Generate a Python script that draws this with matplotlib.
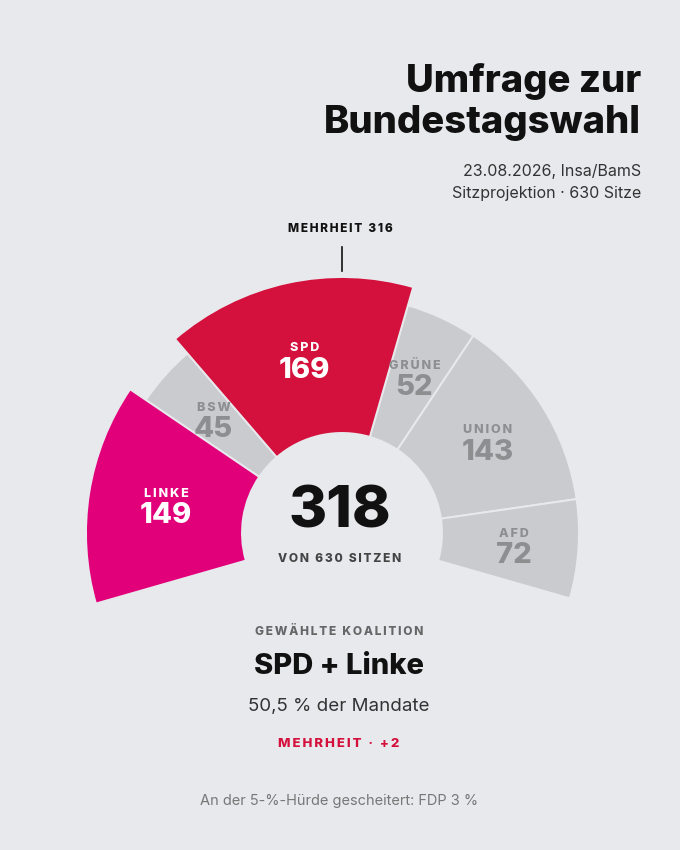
import matplotlib
matplotlib.use("Agg")
import matplotlib.pyplot as plt
from matplotlib.patches import Wedge
import numpy as np

# seat projection (Insa/BamS, 23.08.2026)
parties = ["LINKE", "BSW", "SPD", "GRÜNE", "UNION", "AFD"]
seats = [149, 45, 169, 52, 143, 72]
coalition = ["LINKE", "SPD"]
total_seats = 630
majority = 316

BG = "#e8e9ed"
GREY = "#c9cbcf"
GREY_TXT = "#8d8e90"
party_colors = {"LINKE": "#e2007a", "SPD": "#d4103c"}

plt.rcParams["font.family"] = ["Inter", "DejaVu Sans"]


def spaced(s, sep="\u2009"):
    # fake letter spacing with thin spaces
    return sep.join(s)


W, H = 680, 850
fig = plt.figure(figsize=(W / 100, H / 100), dpi=100, facecolor=BG)
ax = fig.add_axes([0, 0, 1, 1])
ax.set_xlim(0, W)
ax.set_ylim(0, H)
ax.set_aspect("equal")
ax.axis("off")


def py(y):
    # pixel-from-top to data y
    return H - y


cx, cy = 342, py(533)
r_in, r_out, r_out_c = 100, 237, 256
a_start, a_span = 196.0, 212.0

cum = np.concatenate([[0], np.cumsum(seats)])
for i, p in enumerate(parties):
    t2 = a_start - cum[i] / total_seats * a_span
    t1 = a_start - cum[i + 1] / total_seats * a_span
    is_c = p in coalition
    ro = r_out_c if is_c else r_out
    col = party_colors.get(p, GREY)
    ax.add_patch(Wedge((cx, cy), ro, t1, t2, width=ro - r_in, facecolor=col,
                       edgecolor=BG, linewidth=1.4, zorder=3 if is_c else 2))

for i, p in enumerate(parties):
    mid = a_start - (cum[i] + seats[i] / 2) / total_seats * a_span
    is_c = p in coalition
    rl = 178 if is_c else 172
    lx = cx + rl * np.cos(np.radians(mid))
    ly = cy + rl * np.sin(np.radians(mid))
    tc = "white" if is_c else GREY_TXT
    ax.text(lx, ly + 11, spaced(p), ha="center", va="center", fontsize=9,
            fontweight="heavy", color=tc, zorder=5)
    ax.text(lx, ly - 11, str(seats[i]), ha="center", va="center", fontsize=21,
            fontweight="heavy", color=tc, zorder=5)

# majority marker
ax.plot([cx, cx], [py(247), py(271)], color="#111111", lw=1.2, zorder=5)
ax.text(cx - 2, py(229), spaced(f"MEHRHEIT {majority}"), ha="center", va="center",
        fontsize=8.5, fontweight="heavy", color="#111111")

coal_seats = sum(s for p, s in zip(parties, seats) if p in coalition)
ax.text(cx - 2, py(512), str(coal_seats), ha="center", va="center", fontsize=42,
        fontweight="heavy", color="#111111", zorder=5)
ax.text(cx - 2, py(559), spaced(f"VON {total_seats} SITZEN"), ha="center", va="center",
        fontsize=8.6, fontweight="heavy", color="#444444", zorder=5)

# title block
ax.text(641, py(92), "Umfrage zur", ha="right", va="baseline", fontsize=27.5,
        fontweight="heavy", color="#111111")
ax.text(641, py(133), "Bundestagswahl", ha="right", va="baseline", fontsize=27.5,
        fontweight="heavy", color="#111111")
ax.text(641, py(176), "23.08.2026, Insa/BamS", ha="right", va="baseline",
        fontsize=11.5, color="#333333")
ax.text(641, py(198), "Sitzprojektion · 630 Sitze", ha="right", va="baseline",
        fontsize=11.5, color="#333333")

# coalition summary
share = coal_seats / total_seats * 100
ax.text(339, py(632), spaced("GEWÄHLTE KOALITION"), ha="center", va="center",
        fontsize=8.6, fontweight="heavy", color="#666666")
ax.text(339, py(666), "SPD + Linke", ha="center", va="center", fontsize=21,
        fontweight="heavy", color="#111111")
ax.text(339, py(707), f"{share:.1f} % der Mandate".replace(".", ","), ha="center",
        va="center", fontsize=13.5, color="#333333")
ax.text(339, py(744), spaced(f"MEHRHEIT · +{coal_seats - majority}"), ha="center",
        va="center", fontsize=9.5, fontweight="heavy", color="#d4103c")
ax.text(339, py(801), "An der 5-%-Hürde gescheitert: FDP 3 %", ha="center",
        va="center", fontsize=10.5, color="#777777")

fig.savefig("out.png", dpi=100, facecolor=BG)
